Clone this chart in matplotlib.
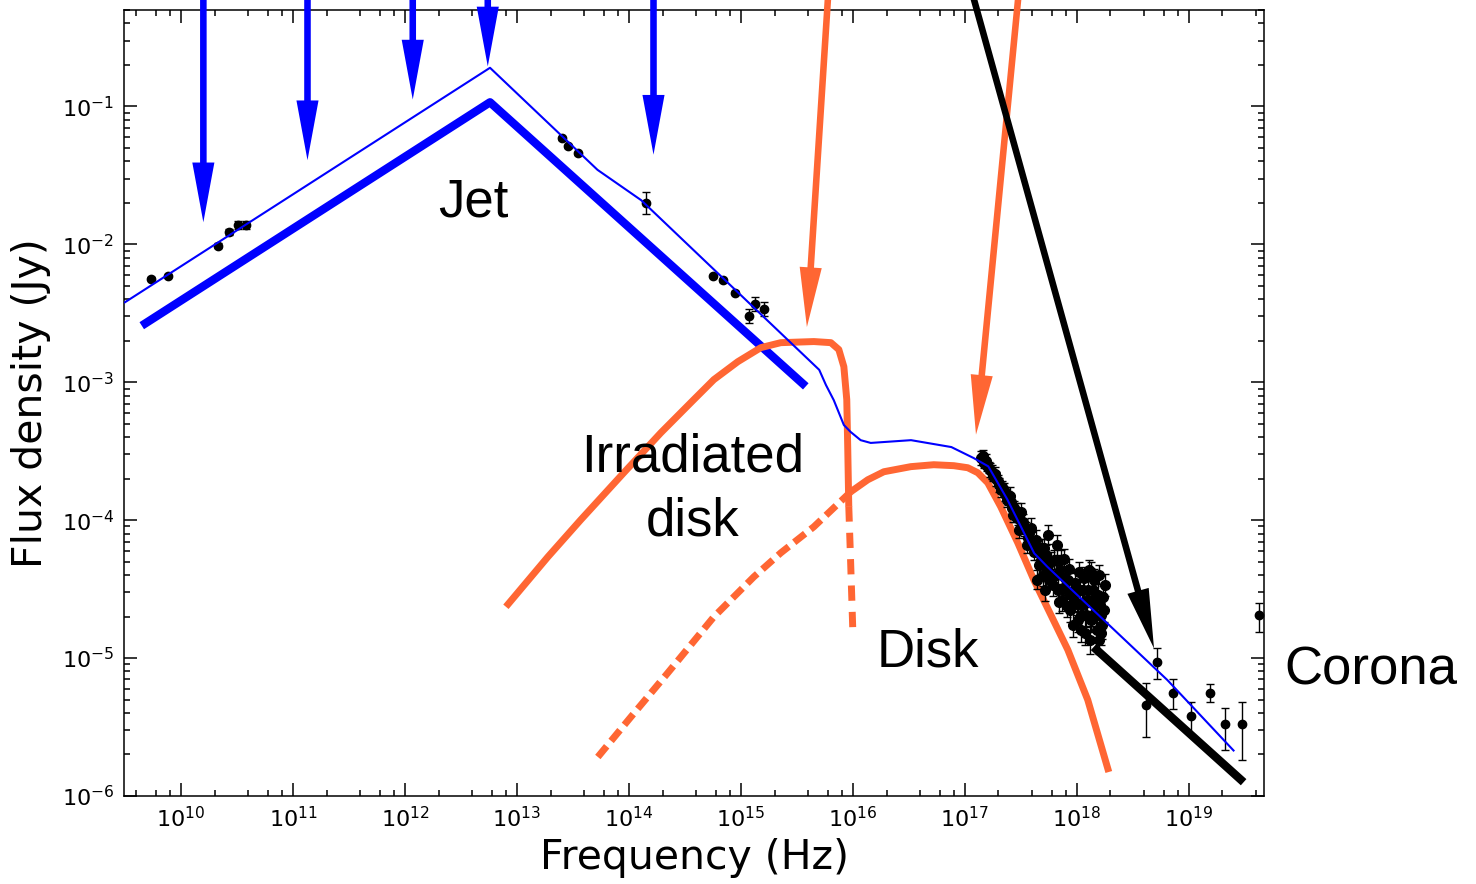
import numpy as np
import matplotlib.pyplot as plt
from matplotlib.ticker import FixedLocator, LogLocator, NullFormatter

blue = '#0000FF'
orange = '#FF6633'

# all values as log10(nu/Hz) and log10(F/Jy)

# jet component (thick) and total model (thin)
jetNu = [9.65, 12.76, 15.58]
jetF = [-2.59, -0.97, -3.03]

totalNu = [9.50, 12.76, 13.72, 14.11, 15.70, 15.76, 15.83, 15.92, 15.98, 16.07, 16.16,
           16.52, 16.88, 17.08, 17.21, 17.38, 17.62, 17.74, 18.21, 18.81, 19.40]
totalF = [-2.42, -0.72, -1.46, -1.68, -2.91, -3.02, -3.13, -3.31, -3.36, -3.42, -3.44,
          -3.42, -3.47, -3.55, -3.61, -3.85, -4.24, -4.34, -4.70, -5.16, -5.67]

# irradiated disk
irrNu = [12.902, 13.277, 13.571, 13.955, 14.286, 14.580, 14.759, 14.973, 15.179, 15.357,
         15.652, 15.804, 15.875, 15.920, 15.946, 15.955, 15.964]
irrF = [-4.628, -4.266, -3.997, -3.656, -3.366, -3.126, -2.981, -2.851, -2.749, -2.713,
        -2.705, -2.713, -2.763, -2.887, -3.126, -3.489, -3.903]
irrTailNu = [15.964, 15.98, 16.00]
irrTailF = [-3.90, -4.29, -4.80]

# disk
diskDashNu = [13.723, 14.018, 14.348, 14.759, 15.116, 15.357, 15.652, 15.982]
diskDashF = [-5.717, -5.427, -5.107, -4.701, -4.411, -4.237, -4.048, -3.794]
diskNu = [15.982, 16.134, 16.277, 16.518, 16.723, 16.902, 17.027, 17.116, 17.205, 17.321,
          17.473, 17.616, 17.920, 18.098, 18.286]
diskF = [-3.794, -3.707, -3.649, -3.612, -3.598, -3.605, -3.620, -3.656, -3.729, -3.903,
         -4.164, -4.432, -4.940, -5.303, -5.826]

# corona
coronaNu = [18.15, 19.49]
coronaF = [-4.92, -5.90]

# data: radio, IR, optical/UV
radioNu = [9.73, 9.88, 10.33, 10.43, 10.51, 10.58]
radioF = [-2.25, -2.23, -2.01, -1.91, -1.86, -1.86]
radioErr = [0.01, 0.01, 0.02, 0.02, 0.03, 0.03]

irNu = [13.40, 13.46, 13.55, 14.15]
irF = [-1.23, -1.29, -1.34, -1.70]
irErr = [0.01, 0.01, 0.01, 0.08]

optNu = [14.75, 14.84, 14.95, 15.07, 15.13, 15.21]
optF = [-2.23, -2.26, -2.35, -2.52, -2.43, -2.47]
optErr = [0.01, 0.01, 0.01, 0.05, 0.05, 0.05]

# soft X-rays
sxNu = [17.143, 17.170, 17.196, 17.223, 17.250, 17.277, 17.304, 17.330, 17.357, 17.384,
        17.411, 17.438, 17.464, 17.491, 17.518, 17.545, 17.571, 17.598, 17.625, 17.652,
        17.679, 17.705, 17.732, 17.741, 17.768, 17.786, 17.813, 17.839, 17.857, 17.875,
        17.893, 17.911, 17.929, 17.946, 17.964, 17.982, 18.000, 18.018, 18.036, 18.054,
        18.071, 18.089, 18.107, 18.125, 18.143, 18.161, 18.179, 18.196, 18.214, 18.232,
        18.250, 17.643, 17.714, 17.554, 17.482, 17.429, 17.821, 18.214, 17.884, 18.125,
        17.161, 17.188, 17.214, 17.241, 17.268, 17.295, 17.321, 17.348, 17.375, 17.402,
        17.420, 17.446, 17.473, 17.500, 17.527, 17.563, 17.589, 17.616, 17.634, 17.661,
        17.688, 17.696, 17.723, 17.750, 17.777, 17.795, 17.830, 17.848, 17.866, 17.902,
        17.920, 17.938, 17.973, 17.991, 18.009, 18.027, 18.045, 18.063, 18.080, 18.098,
        18.116, 18.134, 18.152, 18.170, 18.188, 18.205, 18.223, 18.241, 18.196, 18.036]
sxF = [-3.547, -3.583, -3.605, -3.634, -3.678, -3.700, -3.743, -3.758, -3.808, -3.837,
       -3.866, -3.910, -3.939, -3.997, -4.012, -4.070, -4.091, -4.149, -4.193, -4.229,
       -4.287, -4.200, -4.360, -4.106, -4.302, -4.469, -4.396, -4.592, -4.287, -4.491,
       -4.418, -4.621, -4.353, -4.541, -4.759, -4.454, -4.607, -4.374, -4.686, -4.505,
       -4.817, -4.578, -4.360, -4.723, -4.505, -4.614, -4.795, -4.396, -4.686, -4.556,
       -4.469, -4.432, -4.505, -4.179, -4.070, -3.961, -4.179, -4.817, -4.280, -4.374,
       -3.533, -3.569, -3.620, -3.649, -3.663, -3.714, -3.779, -3.779, -3.852, -3.823,
       -3.910, -3.954, -3.983, -3.939, -4.055, -4.128, -4.055, -4.229, -4.142, -4.324,
       -4.200, -4.396, -4.251, -4.432, -4.396, -4.287, -4.505, -4.360, -4.578, -4.505,
       -4.432, -4.650, -4.578, -4.505, -4.723, -4.505, -4.614, -4.418, -4.686, -4.505,
       -4.868, -4.578, -4.432, -4.686, -4.541, -4.614, -4.759, -4.650, -4.868, -4.795]
sxErr = [0.05, 0.04, 0.04, 0.05, 0.04, 0.05, 0.05, 0.04, 0.05, 0.05,
         0.05, 0.05, 0.06, 0.05, 0.06, 0.06, 0.05, 0.06, 0.06, 0.06,
         0.07, 0.06, 0.07, 0.07, 0.07, 0.08, 0.07, 0.08, 0.07, 0.08,
         0.07, 0.08, 0.07, 0.08, 0.09, 0.07, 0.08, 0.07, 0.09, 0.08,
         0.09, 0.08, 0.07, 0.09, 0.08, 0.08, 0.09, 0.07, 0.09, 0.08,
         0.08, 0.07, 0.08, 0.06, 0.06, 0.05, 0.07, 0.09, 0.07, 0.07,
         0.04, 0.05, 0.04, 0.05, 0.05, 0.04, 0.05, 0.05, 0.05, 0.06,
         0.05, 0.06, 0.05, 0.06, 0.06, 0.06, 0.07, 0.06, 0.07, 0.07,
         0.06, 0.08, 0.07, 0.07, 0.08, 0.07, 0.08, 0.07, 0.08, 0.08,
         0.07, 0.09, 0.08, 0.08, 0.09, 0.08, 0.09, 0.08, 0.09, 0.08,
         0.10, 0.09, 0.08, 0.09, 0.08, 0.09, 0.10, 0.09, 0.10, 0.09]

# hard X-rays
hxNu = [18.62, 18.72, 18.86, 19.02, 19.19, 19.32, 19.48, 19.63]
hxF = [-5.34, -5.03, -5.25, -5.42, -5.25, -5.48, -5.48, -4.69]
hxErrLo = [0.23, 0.12, 0.12, 0.14, 0.07, 0.19, 0.26, 0.12]
hxErrHi = [0.16, 0.10, 0.10, 0.10, 0.06, 0.12, 0.16, 0.09]

# arrows (start above the frame, tip on the curve)
arrowTop = -0.19
blueArrowNu = [10.20, 11.13, 12.07, 12.74, 14.22]
blueArrowTip = [-1.84, -1.39, -0.95, -0.71, -1.35]
orangeArrowStart = [15.78, 17.48]
orangeArrowNu = [15.59, 17.10]
orangeArrowTip = [-2.60, -3.38]
blackArrowStart = 17.07
blackArrowNu = 18.69
blackArrowTip = -4.93

xTicks = [10, 11, 12, 13, 14, 15, 16, 17, 18, 19]
yTicks = [-6, -5, -4, -3, -2, -1]


def lg(v):
    return 10 ** np.asarray(v, dtype=float)


def drawPoints(ax, lognu, logF, errLo, errHi, ms=6):
    nu = lg(lognu)
    f = lg(logF)
    lo = f - f * 10 ** -np.asarray(errLo)
    hi = f * 10 ** np.asarray(errHi) - f
    ax.errorbar(nu, f, yerr=[lo, hi], fmt='o', color='k', ms=ms, elinewidth=1,
                capsize=3, capthick=1, zorder=3)


def drawArrow(ax, nu0, f0, nu1, f1, color):
    ax.annotate('', xy=(lg(nu1), lg(f1)), xytext=(lg(nu0), lg(f0)),
                arrowprops=dict(arrowstyle='simple,head_length=1,head_width=0.37,tail_width=0.11',
                                mutation_scale=43, color=color, lw=0, shrinkA=0, shrinkB=0),
                annotation_clip=False, zorder=5)


fig = plt.figure(figsize=(14.76, 8.84), dpi=100)
ax = fig.add_axes([124 / 1476, 88 / 884, 1140 / 1476, 786 / 884])
ax.set_xscale('log')
ax.set_yscale('log')

ax.plot(lg(jetNu), lg(jetF), color=blue, lw=6, solid_capstyle='butt', zorder=2)
ax.plot(lg(irrNu), lg(irrF), color=orange, lw=5, solid_capstyle='butt', zorder=2)
ax.plot(lg(irrTailNu), lg(irrTailF), color=orange, lw=5, ls=(0, (2.2, 1.6)), zorder=2)
ax.plot(lg(diskDashNu), lg(diskDashF), color=orange, lw=5, ls=(0, (2.0, 1.0)), zorder=2)
ax.plot(lg(diskNu), lg(diskF), color=orange, lw=5, solid_capstyle='butt', zorder=2)
ax.plot(lg(coronaNu), lg(coronaF), color='k', lw=6, solid_capstyle='butt', zorder=2)

drawPoints(ax, radioNu, radioF, radioErr, radioErr)
drawPoints(ax, irNu, irF, irErr, irErr)
drawPoints(ax, optNu, optF, optErr, optErr)
drawPoints(ax, sxNu, sxF, sxErr, sxErr, ms=7)
drawPoints(ax, hxNu, hxF, hxErrLo, hxErrHi)

ax.plot(lg(totalNu), lg(totalF), color=blue, lw=1.5, zorder=4)

for nu, tip in zip(blueArrowNu, blueArrowTip):
    drawArrow(ax, nu, arrowTop, nu, tip, blue)
for nu0, nu1, tip in zip(orangeArrowStart, orangeArrowNu, orangeArrowTip):
    drawArrow(ax, nu0, arrowTop, nu1, tip, orange)
drawArrow(ax, blackArrowStart, arrowTop, blackArrowNu, blackArrowTip, 'k')

ax.set_xlim(3.1e9, 4.7e19)
ax.set_ylim(1e-6, 0.5)

ax.xaxis.set_major_locator(FixedLocator(lg(xTicks)))
ax.xaxis.set_minor_locator(LogLocator(base=10, subs=[2, 4, 6, 8], numticks=20))
ax.xaxis.set_minor_formatter(NullFormatter())
ax.yaxis.set_major_locator(FixedLocator(lg(yTicks)))
ax.yaxis.set_minor_locator(LogLocator(base=10, subs=np.arange(2, 10), numticks=20))
ax.yaxis.set_minor_formatter(NullFormatter())
ax.set_xticklabels([r'$10^{%d}$' % t for t in xTicks])
ax.set_yticklabels([r'$10^{%d}$' % t for t in yTicks])
ax.tick_params(which='both', direction='in', top=True, right=True, width=1.1, labelsize=16)
ax.tick_params(which='major', length=9.5, pad=7)
ax.tick_params(which='minor', length=4.5)
for s in ax.spines.values():
    s.set_linewidth(1.1)

ax.set_xlabel('Frequency (Hz)', fontsize=29.5, labelpad=5)
ax.set_ylabel('Flux density (Jy)', fontsize=29.5, labelpad=8)

txt = dict(fontsize=38, family='Liberation Sans', ha='center', va='baseline')
ax.text(lg(12.61), lg(-1.80), 'Jet', **txt)
ax.text(lg(14.57), lg(-3.65), 'Irradiated', **txt)
ax.text(lg(14.57), lg(-4.11), 'disk', **txt)
ax.text(lg(16.67), lg(-5.06), 'Disk', **txt)
ax.text(lg(19.85), lg(-5.19), 'Corona', fontsize=38, family='Liberation Sans',
        ha='left', va='baseline', clip_on=False)

fig.savefig('out.png', dpi=100)
